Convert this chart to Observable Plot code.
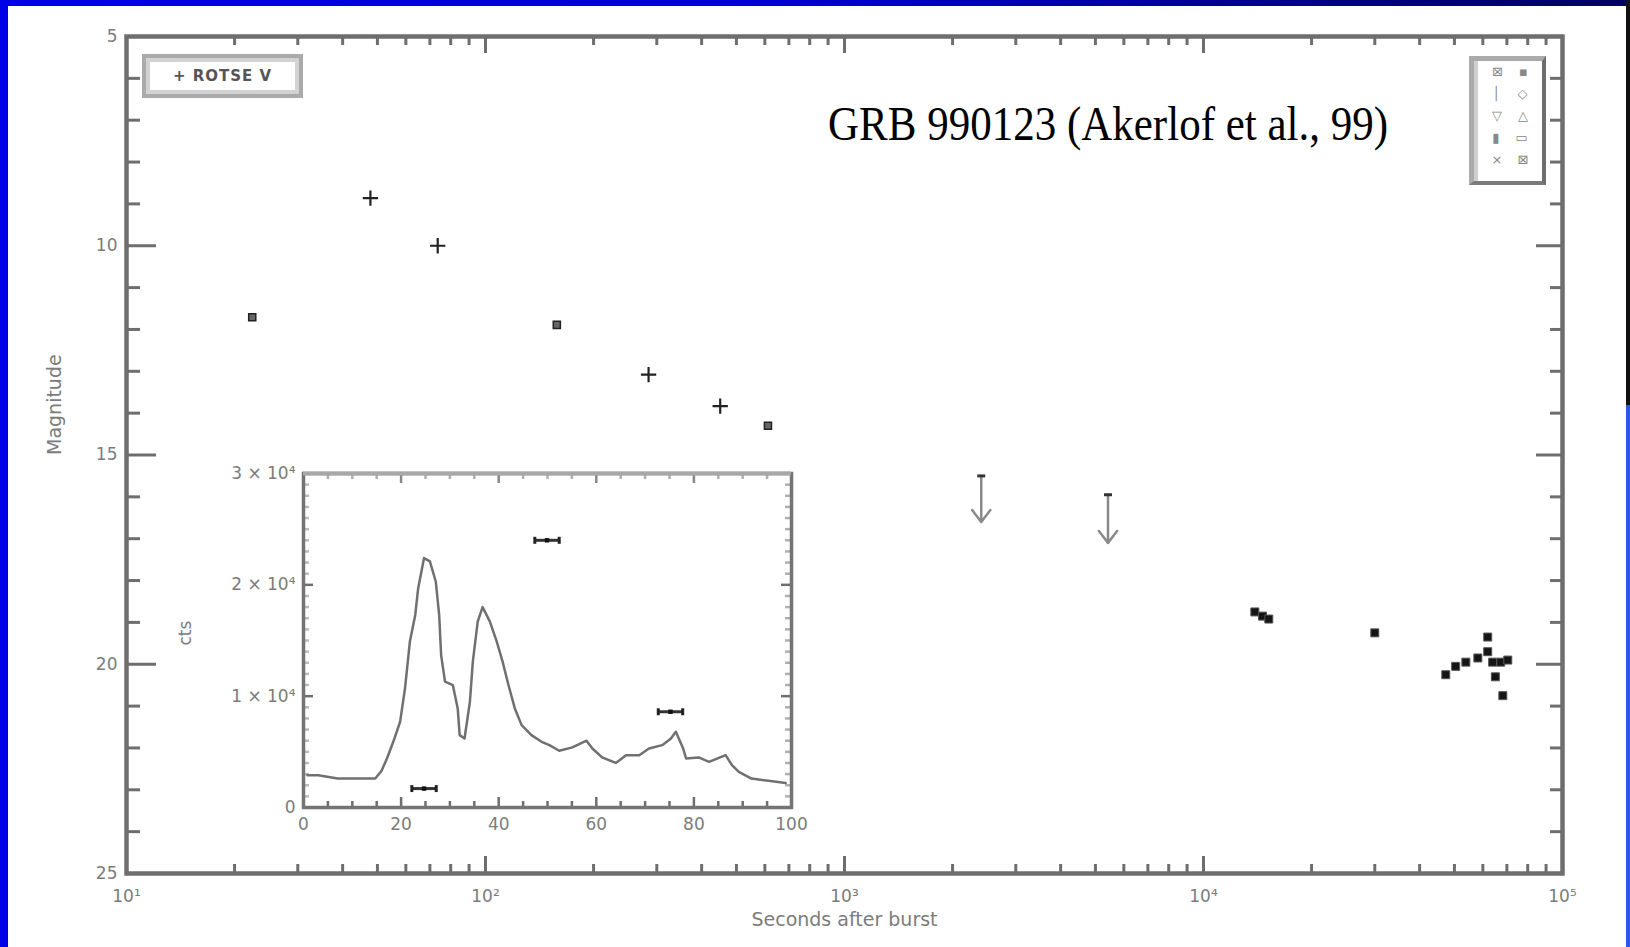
<!DOCTYPE html>
<html><head><meta charset="utf-8">
<script src="https://cdn.jsdelivr.net/npm/d3@7"></script>
<script src="https://cdn.jsdelivr.net/npm/@observablehq/plot@0.6"></script>
<style>
html,body{margin:0;padding:0;background:#fff;}
#page{position:relative;width:1630px;height:947px;overflow:hidden;background:#fff;font-family:"DejaVu Sans",sans-serif;}
#page svg{position:absolute;}
.blk{position:absolute;}
#title{position:absolute;left:828px;top:100px;font-family:"Liberation Serif","Times New Roman",serif;font-size:43px;color:#000;white-space:nowrap;line-height:1;transform:scaleY(1.12);transform-origin:0 0;}
#leg1{position:absolute;left:142px;top:54px;width:153px;height:36px;border:4px solid #aaa;box-shadow:inset 0 0 0 4px #d2d2d2;color:#555;font-size:15px;font-weight:bold;line-height:36px;text-align:center;letter-spacing:1px;}
#leg2{position:absolute;left:1469px;top:56px;width:68px;height:120px;border-left:5px solid #aaa;border-top:5px solid #aaa;border-right:4px solid #6e6e6e;border-bottom:4px solid #7a7a7a;box-shadow:inset 4px 0 0 #cfcfcf;color:#888;font-size:13px;line-height:22px;}
#leg2 div{display:flex;justify-content:space-around;padding:0 6px 0 10px;}
</style></head><body><div id="page">
<div class="blk" style="left:0;top:0;width:8px;height:947px;background:#0000e6"></div>
<div class="blk" style="left:0;top:0;width:1630px;height:6px;background:linear-gradient(to right,#0000e6 0%,#0000d8 45%,#00008a 80%,#000066 100%)"></div>
<div class="blk" style="left:1626px;top:0;width:4px;height:405px;background:#111"></div>
<div class="blk" style="left:1626px;top:405px;width:4px;height:542px;background:#2f55e8"></div>
</div>
<script>
// ---------- main axes ticks ----------
const majorTicksX = [10, 100, 1000, 10000, 100000];
const innerMajorTicksX = [100, 1000, 10000];
const minorTicksX = [20,30,40,50,60,70,80,90,200,300,400,500,600,700,800,900,2000,3000,4000,5000,6000,7000,8000,9000,20000,30000,40000,50000,60000,70000,80000,90000];
const tickLabelsX = ["10\u00b9","10\u00b2","10\u00b3","10\u2074","10\u2075"];
const majorTicksY = [5,10,15,20,25];
const minorTicksY = [6,7,8,9,11,12,13,14,16,17,18,19,21,22,23,24];

// ---------- main data (seconds after burst, magnitude) ----------
const plusTime = [47.8, 73.6, 284.6, 450.6];
const plusMag = [8.86, 10.0, 13.08, 13.83];
const boxTime = [22.4, 158, 612];
const boxMag = [11.71, 11.89, 14.3];
const limitTime = [2404, 5420];
const limitTop = [15.5, 15.95];
const limitBottom = [16.6, 17.1];
const lateTime = [13900, 14600, 15200, 30000, 47300, 50400, 53800, 58100, 61900, 61900, 63900, 67300, 70400, 65000, 68200];
const lateMag = [18.75, 18.85, 18.92, 19.25, 20.25, 20.05, 19.95, 19.85, 19.35, 19.7, 19.95, 19.95, 19.9, 20.3, 20.75];

// ---------- inset (gamma-ray counts vs seconds) ----------
const gammaTime = [0.8, 3, 7, 10, 14.7, 16, 17.1, 18.4, 19.8, 20.8, 21.8, 22.9, 23.5, 24.7, 25.9, 27.1, 27.8, 28.2, 29, 30.6, 31.6, 32, 33, 34.1, 34.7, 35.7, 36.7, 38.2, 39.6, 40.8, 42, 43.3, 44.7, 46.7, 48.8, 50.4, 52.4, 55.1, 58, 59.2, 61.2, 64, 66.1, 68.8, 70.8, 73.5, 75.3, 76.3, 77.8, 78.4, 81, 83.1, 86.5, 87.8, 89.2, 91.8, 95.3, 98.8];
const gammaCounts = [2900, 2900, 2600, 2600, 2600, 3300, 4400, 5900, 7700, 10700, 14900, 17300, 19700, 22400, 22100, 20300, 17300, 13700, 11300, 11000, 8900, 6500, 6200, 9500, 13100, 16700, 18000, 16700, 14900, 13100, 11000, 8900, 7400, 6500, 5900, 5600, 5100, 5400, 6000, 5300, 4500, 4000, 4700, 4700, 5300, 5600, 6200, 6800, 5300, 4400, 4500, 4100, 4700, 3800, 3200, 2600, 2400, 2200];
const opticalTime = [24.7, 49.9, 75.2];
const opticalStart = [22.2, 47.4, 72.7];
const opticalEnd = [27.2, 52.4, 77.7];
const opticalCounts = [1700, 24000, 8600];
const insetTicksX = [0, 20, 40, 60, 80, 100];
const insetMinorX = [5,10,15,25,30,35,45,50,55,65,70,75,85,90,95];
const insetTicksY = [0, 10000, 20000, 30000];
const insetTickLabelsY = ["0", "1 \u00d7 10\u2074", "2 \u00d7 10\u2074", "3 \u00d7 10\u2074"];
const insetMinorY = [1000,2000,3000,4000,5000,6000,7000,8000,9000,11000,12000,13000,14000,15000,16000,17000,18000,19000,21000,22000,23000,24000,25000,26000,27000,28000,29000];

const page = document.getElementById("page");
const axisColor = "#6e6e6e";
const labelColor = "#7c7c7c";
const hbar = {draw(ctx, size){const r = Math.sqrt(size/Math.PI); ctx.moveTo(-r,0); ctx.lineTo(r,0);}};
const vbar = {draw(ctx, size){const r = Math.sqrt(size/Math.PI); ctx.moveTo(0,-r); ctx.lineTo(0,r);}};

// ---------- main plot ----------
const W = 1630, H = 947, mL = 126, mR = 68, mT = 36, mB = 74;
const iw = W - mL - mR, ih = H - mT - mB;
const main = Plot.plot({
  width: W, height: H, marginLeft: mL, marginRight: mR, marginTop: mT, marginBottom: mB,
  x: {type: "log", domain: [10, 1e5], axis: null},
  y: {domain: [5, 25], reverse: true, axis: null},
  style: {background: "transparent", overflow: "visible", fontFamily: "DejaVu Sans, sans-serif"},
  marks: [
    Plot.tickX(minorTicksX, {x: d => d, stroke: axisColor, strokeWidth: 3, insetBottom: ih - 9}),
    Plot.tickX(innerMajorTicksX, {x: d => d, stroke: axisColor, strokeWidth: 3, insetBottom: ih - 17}),
    Plot.tickX(minorTicksX, {x: d => d, stroke: axisColor, strokeWidth: 3, insetTop: ih - 9}),
    Plot.tickX(innerMajorTicksX, {x: d => d, stroke: axisColor, strokeWidth: 3, insetTop: ih - 17}),
    Plot.tickY(minorTicksY, {y: d => d, stroke: axisColor, strokeWidth: 3, insetRight: iw - 14}),
    Plot.tickY(majorTicksY, {y: d => d, stroke: axisColor, strokeWidth: 3, insetRight: iw - 30}),
    Plot.tickY(minorTicksY, {y: d => d, stroke: axisColor, strokeWidth: 3, insetLeft: iw - 12}),
    Plot.tickY(majorTicksY, {y: d => d, stroke: axisColor, strokeWidth: 3, insetLeft: iw - 26}),
    Plot.frame({stroke: axisColor, strokeWidth: 4.5}),
    Plot.text(majorTicksY, {y: d => d, frameAnchor: "left", dx: -9, textAnchor: "end", fontSize: 17, fill: labelColor}),
    Plot.text(majorTicksX, {x: d => d, frameAnchor: "bottom", dy: 28, text: (d, i) => tickLabelsX[i], fontSize: 17, fill: labelColor}),
    Plot.text(["Magnitude"], {frameAnchor: "left", dx: -72, rotate: -90, fontSize: 19, fill: labelColor}),
    Plot.text(["Seconds after burst"], {frameAnchor: "bottom", dy: 52, fontSize: 19, fill: labelColor}),
    Plot.dot(boxTime, {x: d => d, y: (d, i) => boxMag[i], symbol: "square", r: 4, stroke: "#222", fill: "#666", strokeWidth: 1.5}),
    Plot.dot(plusTime, {x: d => d, y: (d, i) => plusMag[i], symbol: "plus", r: 5, stroke: "#222", strokeWidth: 2.2}),
    Plot.arrow(limitTime, {x1: d => d, x2: d => d, y1: (d, i) => limitTop[i], y2: (d, i) => limitBottom[i], stroke: "#8a8a8a", strokeWidth: 2.5, headLength: 9, headAngle: 75}),
    Plot.dot(limitTime, {x: d => d, y: (d, i) => limitTop[i], symbol: hbar, r: 4, stroke: "#333", strokeWidth: 3}),
    Plot.dot(lateTime, {x: d => d, y: (d, i) => lateMag[i], symbol: "square", r: 4.5, fill: "#151515", stroke: "#555", strokeWidth: 1})
  ]
});
main.style.left = "0px"; main.style.top = "0px";
page.appendChild(main);

// ---------- inset plot ----------
const IW = 660, IH = 420, imL = 143, imR = 29, imT = 33, imB = 53;
const iiw = IW - imL - imR, iih = IH - imT - imB;
const inset = Plot.plot({
  width: IW, height: IH, marginLeft: imL, marginRight: imR, marginTop: imT, marginBottom: imB,
  x: {domain: [0, 100], axis: null},
  y: {domain: [0, 30000], axis: null},
  style: {background: "transparent", overflow: "visible", fontFamily: "DejaVu Sans, sans-serif"},
  marks: [
    Plot.tickX(insetMinorX, {x: d => d, stroke: "#b0b0b0", strokeWidth: 2.5, insetBottom: iih - 6}),
    Plot.tickX(insetTicksX, {x: d => d, stroke: "#888", strokeWidth: 2.5, insetBottom: iih - 10}),
    Plot.tickX(insetMinorX, {x: d => d, stroke: axisColor, strokeWidth: 2.5, insetTop: iih - 6}),
    Plot.tickX(insetTicksX, {x: d => d, stroke: axisColor, strokeWidth: 2.5, insetTop: iih - 10}),
    Plot.tickY(insetMinorY, {y: d => d, stroke: "#bbb", strokeWidth: 2.5, insetRight: iiw - 6}),
    Plot.tickY(insetTicksY, {y: d => d, stroke: axisColor, strokeWidth: 2.5, insetRight: iiw - 10}),
    Plot.tickY(insetMinorY, {y: d => d, stroke: "#b0b0b0", strokeWidth: 2.5, insetLeft: iiw - 6}),
    Plot.tickY(insetTicksY, {y: d => d, stroke: axisColor, strokeWidth: 2.5, insetLeft: iiw - 10}),
    Plot.frame({stroke: "#747474", strokeWidth: 3.5}),
    Plot.ruleY([30000], {stroke: "#a8a8a8", strokeWidth: 4}),
    Plot.line(gammaTime, {x: d => d, y: (d, i) => gammaCounts[i], stroke: "#707070", strokeWidth: 2.5}),
    Plot.link(opticalTime, {x1: (d, i) => opticalStart[i], x2: (d, i) => opticalEnd[i], y1: (d, i) => opticalCounts[i], y2: (d, i) => opticalCounts[i], stroke: "#333", strokeWidth: 3}),
    Plot.dot(opticalStart, {x: d => d, y: (d, i) => opticalCounts[i], symbol: vbar, r: 3.5, stroke: "#222", strokeWidth: 3}),
    Plot.dot(opticalEnd, {x: d => d, y: (d, i) => opticalCounts[i], symbol: vbar, r: 3.5, stroke: "#222", strokeWidth: 3}),
    Plot.dot(opticalTime, {x: d => d, y: (d, i) => opticalCounts[i], symbol: "square", r: 2.5, fill: "#111"}),
    Plot.text(insetTicksX, {x: d => d, frameAnchor: "bottom", dy: 22, fontSize: 17, fill: labelColor}),
    Plot.text(insetTicksY, {y: d => d, frameAnchor: "left", dx: -8, textAnchor: "end", text: (d, i) => insetTickLabelsY[i], fontSize: 17, fill: labelColor}),
    Plot.text(["cts"], {frameAnchor: "left", dx: -118, dy: 5, rotate: -90, fontSize: 17, fill: labelColor})
  ]
});
inset.style.left = "160px"; inset.style.top = "440px";
page.appendChild(inset);

// ---------- title and legends ----------
const title = document.createElement("div");
title.id = "title";
title.textContent = "GRB 990123 (Akerlof et al., 99)";
page.appendChild(title);

const leg1 = document.createElement("div");
leg1.id = "leg1";
leg1.textContent = "+ ROTSE V";
page.appendChild(leg1);

const legendRows = [["\u22a0", "\u25aa"], ["\u2502", "\u25c7"], ["\u25bd", "\u25b3"], ["\u25ae", "\u25ad"], ["\u00d7", "\u22a0"]];
const leg2 = document.createElement("div");
leg2.id = "leg2";
for (const row of legendRows) {
  const r = document.createElement("div");
  for (const s of row) { const sp = document.createElement("span"); sp.textContent = s; r.appendChild(sp); }
  leg2.appendChild(r);
}
page.appendChild(leg2);
</script></body></html>
